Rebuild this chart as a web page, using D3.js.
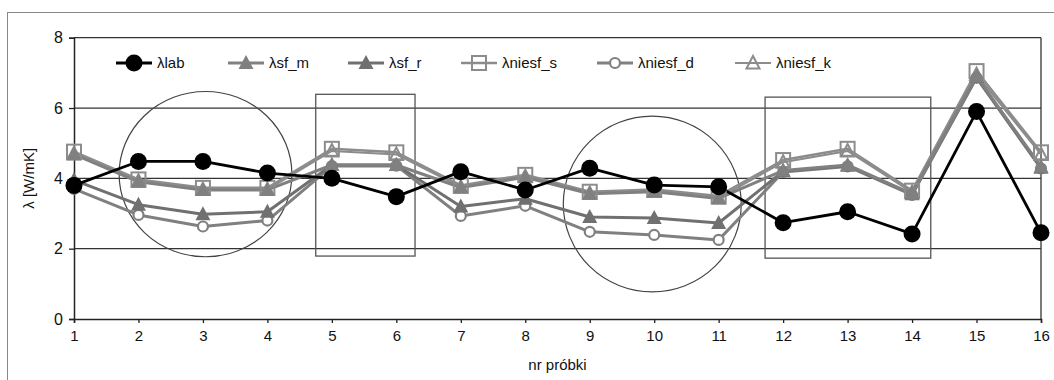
<!DOCTYPE html>
<html>
<head>
<meta charset="utf-8">
<script src="https://cdn.jsdelivr.net/npm/d3@7"></script>
<style>
  body { margin: 0; background: #fff; }
  svg { font-family: "Liberation Sans", Arial, sans-serif; }
</style>
</head>
<body>
<svg id="chart"></svg>
<script>
// sample numbers and series
const samples = [1, 2, 3, 4, 5, 6, 7, 8, 9, 10, 11, 12, 13, 14, 15, 16];
const lab = [3.8, 4.48, 4.48, 4.15, 4.0, 3.48, 4.19, 3.67, 4.29, 3.81, 3.76, 2.74, 3.05, 2.42, 5.9, 2.45];
const sfM = [4.68, 3.9, 3.67, 3.67, 4.38, 4.38, 3.74, 4.03, 3.56, 3.62, 3.43, 4.22, 4.38, 3.56, 6.9, 4.33];
const sfR = [3.95, 3.25, 2.98, 3.05, 4.38, 4.38, 3.2, 3.42, 2.9, 2.87, 2.73, 4.2, 4.36, 3.55, 6.88, 4.3];
const niesfS = [4.76, 3.97, 3.73, 3.73, 4.84, 4.74, 3.8, 4.1, 3.62, 3.68, 3.5, 4.52, 4.84, 3.65, 7.05, 4.74];
const niesfD = [3.7, 2.96, 2.63, 2.8, 4.35, 4.36, 2.93, 3.22, 2.48, 2.39, 2.25, 4.18, 4.34, 3.53, 6.86, 4.28];
const niesfK = [4.7, 3.92, 3.68, 3.68, 4.78, 4.68, 3.75, 4.05, 3.57, 3.63, 3.44, 4.46, 4.78, 3.6, 6.95, 4.68];
const yTicks = [0, 2, 4, 6, 8];

// annotations in data units
const ellipses = [
  { cx: 3.04, cy: 4.12, rx: 1.34, ry: 2.35 },
  { cx: 9.97, cy: 3.27, rx: 1.38, ry: 2.5 }
];
const boxes = [
  { x0: 4.75, x1: 6.29, y0: 1.79, y1: 6.39 },
  { x0: 11.72, x1: 14.29, y0: 1.73, y1: 6.31 }
];

const series = [
  { name: "λlab", values: lab, color: "#000", width: 2.8, marker: "circleFill", legendX: 116 },
  { name: "λsf_m", values: sfM, color: "#808080", width: 3, marker: "triFill", legendX: 228 },
  { name: "λsf_r", values: sfR, color: "#707070", width: 3, marker: "triFill", legendX: 348 },
  { name: "λniesf_s", values: niesfS, color: "#8c8c8c", width: 2.5, marker: "square", legendX: 461 },
  { name: "λniesf_d", values: niesfD, color: "#808080", width: 3, marker: "circleOpen", legendX: 597 },
  { name: "λniesf_k", values: niesfK, color: "#8c8c8c", width: 2, marker: "triOpen", legendX: 735 }
];

const W = 1054, H = 380;
const svg = d3.select("#chart").attr("width", W).attr("height", H);

const x = d3.scaleLinear().domain([1, 16]).range([74, 1041]);
const y = d3.scaleLinear().domain([0, 8]).range([319, 37.7]);

// outer frame
svg.append("rect")
  .attr("x", 7.5).attr("y", 12.5)
  .attr("width", 1060).attr("height", 400)
  .attr("fill", "none").attr("stroke", "#888").attr("stroke-width", 1);

// grid lines
svg.append("g").selectAll("line")
  .data(yTicks.filter((d) => d > 0))
  .enter().append("line")
  .attr("x1", x(1)).attr("x2", x(16))
  .attr("y1", (d) => y(d)).attr("y2", (d) => y(d))
  .attr("stroke", "#333").attr("stroke-width", 1.3);

// right frame line of plot area
svg.append("line")
  .attr("x1", x(16)).attr("x2", x(16))
  .attr("y1", y(8)).attr("y2", y(0))
  .attr("stroke", "#333").attr("stroke-width", 1.3);

// axes
const yAxis = svg.append("g")
  .attr("transform", "translate(" + x(1) + ",0)")
  .call(d3.axisLeft(y).tickValues(yTicks).tickSize(5).tickPadding(6));
const xAxis = svg.append("g")
  .attr("transform", "translate(0," + y(0) + ")")
  .call(d3.axisBottom(x).tickValues(samples).tickFormat(d3.format("d")).tickSize(4).tickPadding(7));

[yAxis, xAxis].forEach((a) => {
  a.select(".domain").attr("stroke", "#222").attr("stroke-width", 1.5);
  a.selectAll(".tick line").attr("stroke", "#222").attr("stroke-width", 1.3);
  a.selectAll(".tick text").attr("fill", "#111");
});
yAxis.selectAll(".tick text").attr("font-size", "16px").attr("font-family", "Liberation Sans, Arial, sans-serif");
xAxis.selectAll(".tick text").attr("font-size", "15px")
  .attr("font-family", "Liberation Sans Narrow, Arial Narrow, Liberation Sans, sans-serif");

// axis titles
svg.append("text")
  .attr("transform", "translate(34," + y(4) + ") rotate(-90)")
  .attr("text-anchor", "middle")
  .attr("font-size", "15px").attr("fill", "#111")
  .text("λ [W/mK]");
svg.append("text")
  .attr("x", (x(1) + x(16)) / 2).attr("y", 370)
  .attr("text-anchor", "middle")
  .attr("font-family", "Liberation Sans Narrow, Arial Narrow, Liberation Sans, sans-serif")
  .attr("font-size", "15px").attr("fill", "#111")
  .text("nr próbki");

// annotation shapes
svg.append("g").selectAll("ellipse")
  .data(ellipses).enter().append("ellipse")
  .attr("cx", (d) => x(d.cx)).attr("cy", (d) => y(d.cy))
  .attr("rx", (d) => x(d.cx + d.rx) - x(d.cx))
  .attr("ry", (d) => y(d.cy) - y(d.cy + d.ry))
  .attr("fill", "none").attr("stroke", "#444").attr("stroke-width", 1.2);
svg.append("g").selectAll("rect")
  .data(boxes).enter().append("rect")
  .attr("x", (d) => x(d.x0)).attr("y", (d) => y(d.y1))
  .attr("width", (d) => x(d.x1) - x(d.x0))
  .attr("height", (d) => y(d.y0) - y(d.y1))
  .attr("fill", "none").attr("stroke", "#555").attr("stroke-width", 1.3);

function drawMarker(g, type, color) {
  if (type === "circleFill") {
    g.append("circle").attr("r", 8.5).attr("fill", color);
  } else if (type === "circleOpen") {
    g.append("circle").attr("r", 5).attr("fill", "#fff").attr("stroke", color).attr("stroke-width", 2.2);
  } else if (type === "square") {
    g.append("rect").attr("x", -7).attr("y", -7).attr("width", 14).attr("height", 14)
      .attr("fill", "none").attr("stroke", color).attr("stroke-width", 2);
  } else if (type === "triFill") {
    g.append("path").attr("d", "M0,-8L7.5,6L-7.5,6Z").attr("fill", color);
  } else if (type === "triOpen") {
    g.append("path").attr("d", "M0,-7L6.5,5.5L-6.5,5.5Z").attr("fill", "none").attr("stroke", color).attr("stroke-width", 2);
  }
}

const line = d3.line().x((d, i) => x(samples[i])).y((d) => y(d));

// draw gray series first, black on top
const order = [5, 3, 4, 2, 1, 0];
order.forEach((k) => {
  const s = series[k];
  svg.append("path")
    .datum(s.values)
    .attr("d", line)
    .attr("fill", "none")
    .attr("stroke", s.color)
    .attr("stroke-width", s.width)
    .attr("stroke-linejoin", "round");
});
order.forEach((k) => {
  const s = series[k];
  s.values.forEach((v, i) => {
    const g = svg.append("g").attr("transform", "translate(" + x(samples[i]) + "," + y(v) + ")");
    drawMarker(g, s.marker, s.color);
  });
});

// legend
const legendY = 63;
series.forEach((s) => {
  const g = svg.append("g");
  g.append("line")
    .attr("x1", s.legendX).attr("x2", s.legendX + 36)
    .attr("y1", legendY).attr("y2", legendY)
    .attr("stroke", s.color).attr("stroke-width", s.width);
  const m = g.append("g").attr("transform", "translate(" + (s.legendX + 18) + "," + legendY + ")");
  drawMarker(m, s.marker, s.color);
  g.append("text")
    .attr("x", s.legendX + 41).attr("y", legendY + 5)
    .attr("font-size", "15px").attr("fill", "#111")
    .text(s.name);
});
</script>
</body>
</html>
